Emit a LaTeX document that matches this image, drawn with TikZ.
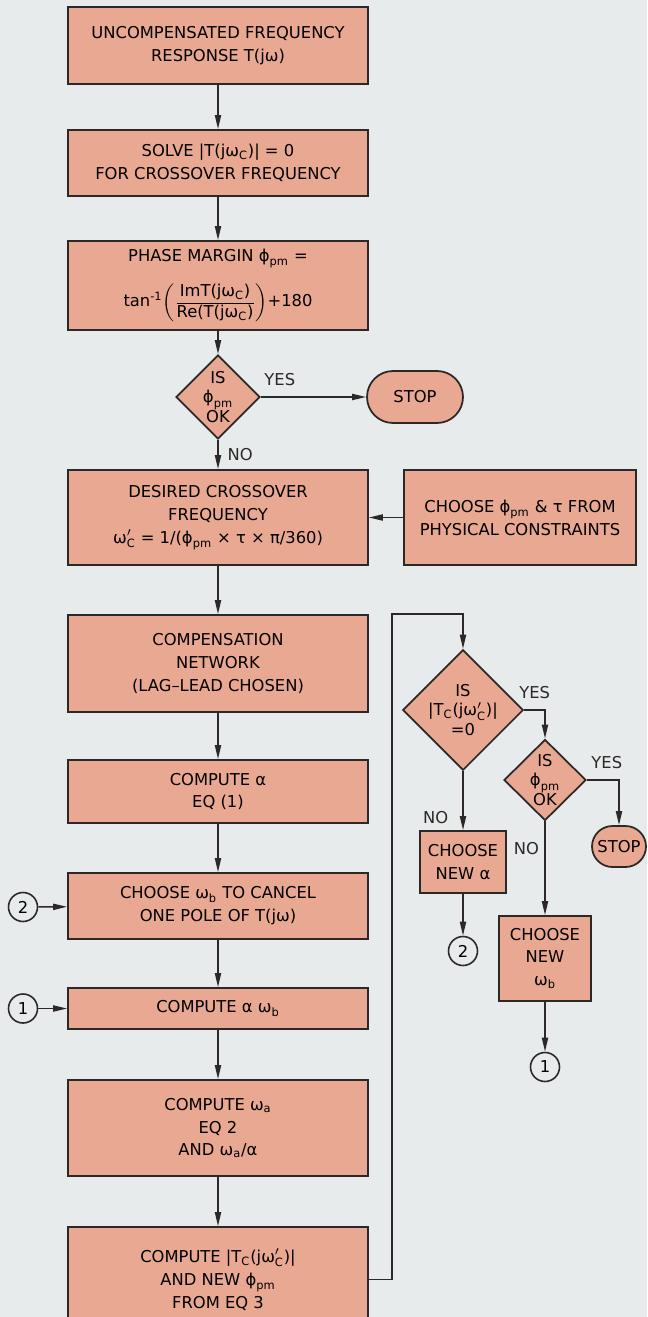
\documentclass[tikz,border=0pt]{standalone}
\usepackage{amsmath}
\usepackage{fontspec}
\setmainfont{DejaVu Sans}
\usepackage{tikz}
\usetikzlibrary{shapes.geometric}
\usetikzlibrary{shapes.misc}
\usetikzlibrary{arrows.meta}

\definecolor{paper}{RGB}{231,235,235}
\definecolor{salmon}{RGB}{233,168,146}
\definecolor{ink}{RGB}{45,40,40}

\newcommand{\phipm}{\ensuremath{\text{ϕ}_{\text{pm}}}}
\newcommand{\omc}{\ensuremath{\text{ω}_{\text{C}}}}
\newcommand{\omcp}{\ensuremath{\text{ω}'_{\text{C}}}}
\newcommand{\omb}{\ensuremath{\text{ω}_{\text{b}}}}
\newcommand{\oma}{\ensuremath{\text{ω}_{\text{a}}}}

\begin{document}
\begin{tikzpicture}[x=0.02cm, y=-0.02cm,
    box/.style={draw=ink, fill=salmon, line width=1pt, align=center, inner sep=0pt,
        minimum width=6cm, font=\fontsize{9.3}{13}\selectfont},
    decide/.style={diamond, draw=ink, fill=salmon, line width=1pt, align=center,
        inner sep=0pt, aspect=1, font=\fontsize{9.3}{11}\selectfont},
    stopbox/.style={rounded rectangle, draw=ink, fill=salmon, line width=1pt,
        inner sep=0pt, font=\fontsize{9.3}{11}\selectfont},
    tag/.style={circle, draw=ink, line width=0.9pt, inner sep=0pt,
        minimum size=0.58cm, font=\fontsize{9.3}{11}\selectfont},
    flow/.style={draw=ink, line width=0.9pt, -{Triangle[length=8pt,width=3.5pt]}},
    lbl/.style={text=ink, inner sep=0pt, font=\fontsize{9.3}{11}\selectfont}]

    \fill[paper] (0,0) rectangle (647,1317);
    \useasboundingbox (0,0) rectangle (647,1317);

    % main column
    \node[box, minimum height=1.54cm] (uncomp) at (218,45.5)
        {UNCOMPENSATED FREQUENCY\\RESPONSE T(jω)};
    \node[box, minimum height=1.32cm] (solve) at (218,163)
        {SOLVE |T(j\omc)| = 0\\FOR CROSSOVER FREQUENCY};
    \node[box, minimum height=1.78cm] (phase) at (218,285.5)
        {PHASE MARGIN \phipm\ =\\[8pt]
         tan\textsuperscript{-1}$\left(\dfrac{\text{ImT(j\omc)}}{\text{Re(T(j\omc)}}\right)$+180};
    \node[decide, minimum width=1.68cm, minimum height=1.68cm] (okpm) at (218,397)
        {IS\\\phipm\\OK};
    \node[stopbox, minimum width=1.92cm, minimum height=1.04cm] (stopa) at (415,397) {STOP};
    \node[box, minimum height=1.9cm] (desired) at (218,517.5)
        {DESIRED CROSSOVER\\FREQUENCY\\\omcp\ = 1/(\phipm\ × τ × π/360)};
    \node[box, minimum width=4.64cm, minimum height=1.9cm] (phys) at (520,517.5)
        {CHOOSE \phipm\ \& τ FROM\\PHYSICAL CONSTRAINTS};
    \node[box, minimum height=1.94cm] (comp) at (218,663.5)
        {COMPENSATION\\NETWORK\\(LAG–LEAD CHOSEN)};
    \node[box, minimum height=1.26cm] (alpha) at (218,791.5)
        {COMPUTE α\\EQ (1)};
    \node[box, minimum height=1.32cm] (chooseb) at (218,906)
        {CHOOSE \omb\ TO CANCEL\\ONE POLE OF T(jω)};
    \node[box, minimum height=0.82cm] (alphab) at (218,1008.5)
        {COMPUTE α \omb};
    \node[box, minimum height=1.92cm] (omegaa) at (218,1128)
        {COMPUTE \oma\\EQ 2\\AND \oma/α};
    \node[box, minimum height=2.1cm] (newphi) at (218,1279.5)
        {COMPUTE |T\textsubscript{C}(j\omcp)|\\AND NEW \phipm\\FROM EQ 3};

    \node[tag] (tagbl) at (23,907) {2};
    \node[tag] (tagal) at (23,1008.5) {1};

    % right column
    \coordinate (looptop) at (392,614);
    \node[decide, minimum width=2.4cm, minimum height=2.32cm] (okmag) at (463,710)
        {IS\\|T\textsubscript{C}(j\omcp)|\\=0};
    \node[decide, minimum width=1.64cm, minimum height=1.56cm] (okpmb) at (545,780)
        {IS\\\phipm\\OK};
    \node[stopbox, minimum width=1.08cm, minimum height=0.82cm] (stopb) at (619,846.5) {STOP};
    \node[box, minimum width=1.72cm, minimum height=1.24cm] (newa) at (463,862)
        {CHOOSE\\NEW α};
    \node[box, minimum width=1.84cm, minimum height=1.7cm] (newb) at (545,958.5)
        {CHOOSE\\NEW\\\omb};
    \node[tag] (tagbr) at (463,951) {2};
    \node[tag] (tagar) at (545,1067) {1};

    \draw[flow] (uncomp) -- (solve);
    \draw[flow] (solve) -- (phase);
    \draw[flow] (phase) -- (okpm);
    \draw[flow] (okpm) -- (stopa) node[lbl, pos=0.18, above=6pt] {YES};
    \draw[flow] (okpm) -- (desired) node[lbl, pos=0.5, right=5pt] {NO};
    \draw[flow] (phys) -- (desired);
    \draw[flow] (desired) -- (comp);
    \draw[flow] (comp) -- (alpha);
    \draw[flow] (alpha) -- (chooseb);
    \draw[flow] (chooseb) -- (alphab);
    \draw[flow] (alphab) -- (omegaa);
    \draw[flow] (omegaa) -- (newphi);
    \draw[flow] (tagbl) -- (chooseb);
    \draw[flow] (tagal) -- (alphab);

    \draw[flow] (newphi.east) -| (looptop) -| (okmag);
    \draw[flow] (okmag.east) -| (okpmb) node[lbl, pos=0.25, above=6pt] {YES};
    \draw[flow] (okpmb.east) -| (stopb) node[lbl, pos=0.31, above=6pt] {YES};
    \draw[flow] (okmag) -- (newa) node[lbl, pos=0.78, left=8pt] {NO};
    \draw[flow] (okpmb) -- (newb) node[lbl, pos=0.29, left=3pt] {NO};
    \draw[flow] (newa) -- (tagbr);
    \draw[flow] (newb) -- (tagar);
\end{tikzpicture}
\end{document}
